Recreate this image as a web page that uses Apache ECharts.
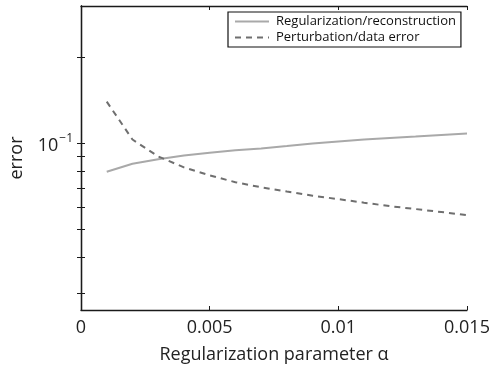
<!DOCTYPE html>
<html>
<head>
<meta charset="utf-8">
<script src="https://cdn.jsdelivr.net/npm/echarts@6/dist/echarts.min.js"></script>
<style>
  html, body { margin: 0; padding: 0; background: #fff; }
  #chart { width: 496px; height: 369px; }
</style>
</head>
<body>
<div id="chart"></div>
<script>
// Regularization parameter values (alpha)
const alphas = [0.001, 0.002, 0.003, 0.004, 0.005, 0.006, 0.007, 0.008,
                0.009, 0.010, 0.011, 0.012, 0.013, 0.014, 0.015];
// Error caused by regularization / reconstruction
const regError = [0.0796, 0.0849, 0.0880, 0.0908, 0.0927, 0.0946, 0.0961, 0.0980,
                  0.1000, 0.1016, 0.1032, 0.1045, 0.1057, 0.1070, 0.1083];
// Error caused by perturbation of the data
const pertError = [0.1400, 0.1032, 0.0901, 0.0825, 0.0774, 0.0732, 0.0703, 0.0679,
                   0.0657, 0.0639, 0.0621, 0.0604, 0.0590, 0.0576, 0.0562];
// Tick positions
const xTicks = [0, 0.005, 0.01, 0.015];
const yMinorTicks = [0.03, 0.04, 0.05, 0.06, 0.07, 0.08, 0.09, 0.1, 0.2];
const yLabelTicks = [0.1];

const FONT = '"Open Sans", "Noto Sans", sans-serif';
const AXIS_COLOR = '#1a1a1a';

const toPairs = (xs, ys) => xs.map((x, i) => [x, ys[i]]);

const chart = echarts.init(document.getElementById('chart'), null, { renderer: 'canvas' });

const yBase = {
  type: 'log',
  logBase: 10,
  min: 0.0262,
  max: 0.302,
  splitLine: { show: false },
  axisLine: { show: true, lineStyle: { color: AXIS_COLOR, width: 1.3 } },
  axisTick: { show: true, inside: true, length: 4, customValues: yMinorTicks,
              lineStyle: { color: AXIS_COLOR } },
  minorTick: { show: false }
};

const xBase = {
  type: 'value',
  min: 0,
  max: 0.015,
  interval: 0.005,
  splitLine: { show: false },
  axisLine: { show: true, onZero: false, lineStyle: { color: AXIS_COLOR, width: 1.3 } },
  axisTick: { show: true, inside: true, length: 4, lineStyle: { color: AXIS_COLOR } }
};

chart.setOption({
  animation: false,
  backgroundColor: '#fff',
  textStyle: { fontFamily: FONT },
  grid: { left: 81, right: 29, top: 6, bottom: 58, containLabel: false },
  legend: {
    orient: 'vertical',
    left: 228,
    top: 12,
    padding: [3, 5, 3, 6],
    itemGap: 3,
    itemWidth: 34,
    itemHeight: 14,
    backgroundColor: '#fff',
    borderColor: '#111',
    borderWidth: 1.2,
    borderRadius: 0,
    itemStyle: { opacity: 0 },
    textStyle: { fontFamily: FONT, fontSize: 13, color: '#111', padding: [0, 0, 0, 2] },
    data: ['Regularization/reconstruction', 'Perturbation/data error']
  },
  xAxis: [
    Object.assign({}, xBase, {
      position: 'bottom',
      customValues: xTicks,
      name: 'Regularization parameter α',
      nameLocation: 'middle',
      nameGap: 36,
      nameTextStyle: { fontFamily: FONT, fontSize: 18, color: '#222' },
      axisLabel: { show: true, margin: 9, fontSize: 18, color: '#222', fontFamily: FONT,
                   customValues: xTicks,
                   formatter: v => String(v) }
    }),
    Object.assign({}, xBase, {
      position: 'top',
      axisLabel: { show: false }
    })
  ],
  yAxis: [
    Object.assign({}, yBase, {
      position: 'left',
      name: 'error',
      nameLocation: 'middle',
      nameGap: 55,
      nameRotate: 90,
      nameTextStyle: { fontFamily: FONT, fontSize: 18, color: '#222' },
      axisLabel: {
        show: true,
        margin: 8,
        customValues: yLabelTicks,
        formatter: v => '{b|10}{s|−1}',
        rich: {
          b: { fontFamily: FONT, fontSize: 18, color: '#222', verticalAlign: 'bottom' },
          s: { fontFamily: FONT, fontSize: 12, color: '#222', verticalAlign: 'top',
               padding: [0, 0, 10, 1] }
        }
      }
    }),
    Object.assign({}, yBase, {
      position: 'right',
      axisLabel: { show: false }
    })
  ],
  series: [
    {
      name: 'Regularization/reconstruction',
      type: 'line',
      data: toPairs(alphas, regError),
      symbol: 'none',
      smooth: false,
      lineStyle: { color: '#a9a9a9', width: 2, type: 'solid' },
      itemStyle: { color: '#a9a9a9' }
    },
    {
      name: 'Perturbation/data error',
      type: 'line',
      data: toPairs(alphas, pertError),
      symbol: 'none',
      smooth: false,
      lineStyle: { color: '#6f6f6f', width: 2, type: [6, 5] },
      itemStyle: { color: '#6f6f6f' }
    }
  ]
});
</script>
</body>
</html>
